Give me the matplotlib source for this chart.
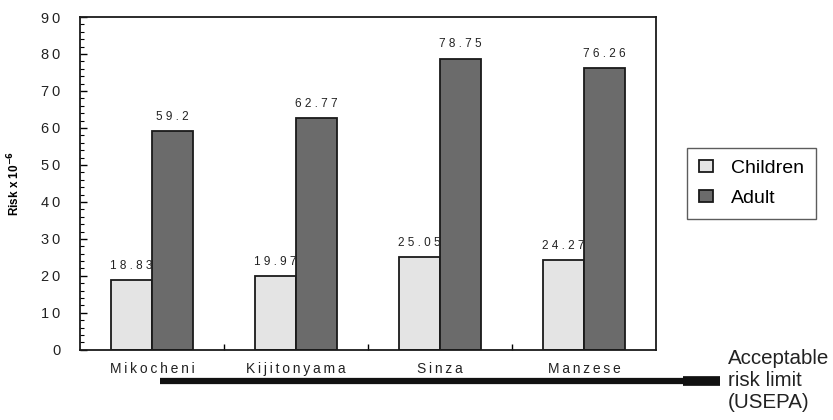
import matplotlib
matplotlib.use('Agg')
import matplotlib.pyplot as plt
import numpy as np
from matplotlib.ticker import MultipleLocator, FixedLocator

plt.rcParams['font.family'] = ['Liberation Sans', 'DejaVu Sans']

sites = ['Mikocheni', 'Kijitonyama', 'Sinza', 'Manzese']
children = [18.83, 19.97, 25.05, 24.27]
adult = [59.2, 62.77, 78.75, 76.26]


def spaced(s, sep=' '):
    # letter-spaced look of the original labels
    return sep.join(s)


fig = plt.figure(figsize=(8.33, 4.2), dpi=100)
ax = fig.add_axes([0.096, 0.167, 0.6915, 0.7925])

x = np.arange(len(sites))
w = 0.285
b1 = ax.bar(x - w / 2, children, w, color='#e4e4e4', edgecolor='#1a1a1a', linewidth=1.3, label='Children')
b2 = ax.bar(x + w / 2, adult, w, color='#6b6b6b', edgecolor='#1a1a1a', linewidth=1.3, label='Adult')

for rects, vals in [(b1, children), (b2, adult)]:
    for r, v in zip(rects, vals):
        ax.text(r.get_x() + r.get_width() / 2, v + 2.2, spaced('%g' % v),
                ha='center', va='bottom', fontsize=8.5, color='#222222')

ax.set_xlim(-0.5, len(sites) - 0.5)
ax.set_ylim(0, 90)
ax.yaxis.set_major_locator(MultipleLocator(10))
ax.yaxis.set_minor_locator(MultipleLocator(2))
ax.set_yticklabels([spaced(str(int(t)), '\u2009') for t in ax.get_yticks()], fontsize=10.5, color='#222222')
ax.set_xticks(x)
ax.set_xticklabels([spaced(s, '\u2009') for s in sites], fontsize=10, color='#222222')
ax.xaxis.set_minor_locator(FixedLocator(x[:-1] + 0.5))
ax.tick_params(axis='x', which='major', length=0, pad=9)
ax.tick_params(axis='x', which='minor', direction='in', length=4, width=1)
ax.tick_params(axis='y', which='major', direction='in', length=5, width=1, pad=14)
ax.tick_params(axis='y', which='minor', direction='in', length=3, width=0.8)
for sp in ax.spines.values():
    sp.set_linewidth(1.3)
    sp.set_color('#1a1a1a')

ax.set_ylabel('Risk x 10$^{\\mathbf{-6}}$', fontsize=8.5, fontweight='bold', labelpad=14)

leg = fig.legend(handles=[b1, b2], loc='upper left', bbox_to_anchor=(0.825, 0.648),
                 fontsize=14, frameon=True, fancybox=False, edgecolor='#333333',
                 handlelength=0.75, handleheight=0.6, borderpad=0.6, labelspacing=0.7,
                 handletextpad=0.9, borderaxespad=0)
leg.get_frame().set_linewidth(1.0)

# acceptable risk limit line below the axis
ax.plot([0.139, 1.047], [-0.095, -0.095], transform=ax.transAxes, color='#111111',
        linewidth=4.5, clip_on=False, solid_capstyle='butt')
ax.plot([1.047, 1.111], [-0.095, -0.095], transform=ax.transAxes, color='#111111',
        linewidth=7, clip_on=False, solid_capstyle='butt')
ax.text(1.125, -0.093, 'Acceptable\nrisk limit\n(USEPA)', transform=ax.transAxes,
        ha='left', va='center', fontsize=14.8, color='#222222', linespacing=1.2)

fig.savefig('out.png', dpi=100)
